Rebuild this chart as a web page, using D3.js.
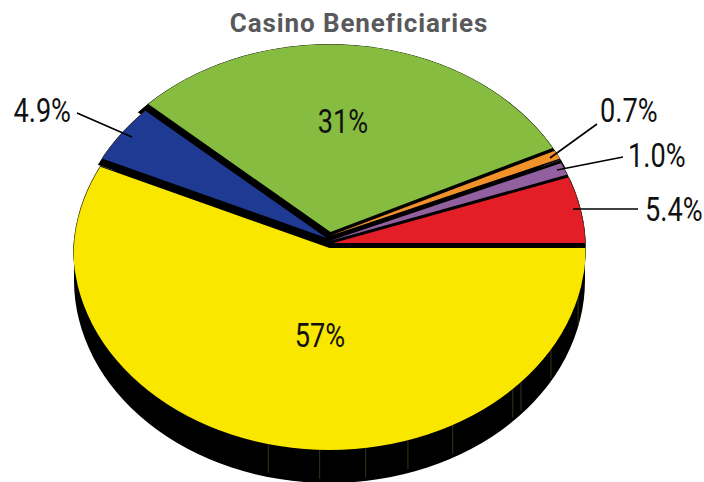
<!DOCTYPE html>
<html><head><meta charset="utf-8">
<script src="https://cdn.jsdelivr.net/npm/d3@7"></script>
<style>html,body{margin:0;padding:0;background:#fff}svg{display:block}</style>
</head><body><svg id="c" width="704" height="482"></svg>
<script>
const titleText = "Casino Beneficiaries";
const categories = ["Red","Purple","Orange","Green","Blue","Yellow"];
const values = [5.4,1.0,0.7,31.35,4.85,56.7];
const labels = ["5.4%","1.0%","0.7%","31%","4.9%","57%"];
const colors = ["#e31e26","#92609f","#f0912a","#86bc40","#1f3a93","#f9e700"];
const seamDegrees = [103.8,92.2,81.9,72.2,61.3,44.4,41.7,30.3,14.3];

const W=704,H=482,cx=329.5,cy=247,rx=256.5,ry=203,depth=33;
const sliceShift = [[4,-4],[0,-6],[0,-11],[1,-15],[-3,-9],[0,1]];
const rimShift = [3,3,0,0,5,10];
const labelPos = [[645,209,"start"],[628,155,"start"],[600,110,"start"],[343,121,"middle"],[71,110,"end"],[320,335,"middle"]];
const leaderOuter = [[638,209],[623,157],[597,124],null,[77,113],null];
const leaderInner = [[573,209],[557,170],[550,158],null,[132,137],null];

const svg=d3.select("#c");
const pie=d3.pie().sort(null).value(d=>d).startAngle(Math.PI/2).endAngle(Math.PI/2-2*Math.PI);
const arcs=pie(values);
const arc=d3.arc().innerRadius(0).outerRadius(1.25);
const defs=svg.append("defs");
defs.append("clipPath").attr("id","rim").append("ellipse")
  .attr("cx",cx).attr("cy",cy).attr("rx",rx).attr("ry",ry);
arcs.forEach((a,i)=>{
  defs.append("clipPath").attr("id","rim"+i).append("ellipse")
    .attr("cx",cx).attr("cy",cy+rimShift[i]).attr("rx",rx).attr("ry",ry);
  defs.append("clipPath").attr("id","wedge"+i).append("path").attr("d",arc(a))
    .attr("transform",`translate(${cx+sliceShift[i][0]},${cy+sliceShift[i][1]}) scale(${rx},${ry})`);
});

// side wall
svg.append("rect").attr("x",cx-rx+1).attr("y",cy).attr("width",2*rx-2).attr("height",depth).attr("fill","#000");
svg.append("ellipse").attr("cx",cx).attr("cy",cy+depth).attr("rx",rx-1).attr("ry",ry).attr("fill","#000");
// seams on the side wall
const x=d3.scaleLinear().domain([-1,1]).range([cx-rx,cx+rx]);
const y=d3.scaleLinear().domain([-1,1]).range([cy-ry,cy+ry]);
svg.selectAll("line.seam").data(seamDegrees).join("line").attr("class","seam")
  .attr("x1",d=>x(Math.cos(d*Math.PI/180))).attr("x2",d=>x(Math.cos(d*Math.PI/180)))
  .attr("y1",d=>y(Math.sin(d*Math.PI/180))).attr("y2",d=>y(Math.sin(d*Math.PI/180))+depth-4)
  .attr("stroke","#4a4a20").attr("stroke-width",0.7);

const g=svg.append("g").attr("clip-path","url(#rim)");
// black under-wedges, unshifted, each limited by its slice's rim
g.selectAll("g.s").data(arcs).join("g").attr("class","s").attr("clip-path",(d,i)=>`url(#rim${i})`)
  .append("path").attr("d",arc)
  .attr("transform",`translate(${cx},${cy}) scale(${rx},${ry})`).attr("fill","#000");
// coloured slices above all under-wedges
const tops=g.selectAll("g.t").data(arcs).join("g").attr("class","t").attr("clip-path",(d,i)=>`url(#rim${i})`);
tops.append("path").attr("d",arc)
  .attr("transform",(d,i)=>`translate(${cx+sliceShift[i][0]},${cy+sliceShift[i][1]}) scale(${rx},${ry})`)
  .attr("fill",(d,i)=>colors[i]);
// rim line along each slice's own outer edge
tops.append("g").attr("clip-path",(d,i)=>`url(#wedge${i})`)
  .append("ellipse").attr("cx",cx).attr("cy",(d,i)=>cy+rimShift[i]).attr("rx",rx).attr("ry",ry)
  .attr("fill","none").attr("stroke","#333").attr("stroke-width",1.2);
// leaders
svg.selectAll("line.leader").data(labels.map((d,i)=>i).filter(i=>leaderOuter[i])).join("line").attr("class","leader")
  .attr("x1",i=>leaderOuter[i][0]).attr("y1",i=>leaderOuter[i][1])
  .attr("x2",i=>leaderInner[i][0]).attr("y2",i=>leaderInner[i][1])
  .attr("stroke","#000").attr("stroke-width",1.6);
// labels
svg.selectAll("text.lab").data(labels).join("text").attr("class","lab")
  .attr("transform",(d,i)=>`translate(${labelPos[i][0]},${labelPos[i][1]+12}) scale(0.81,1)`)
  .attr("text-anchor",(d,i)=>labelPos[i][2])
  .attr("font-family","Roboto,sans-serif")
  .attr("font-size",33.5).attr("fill","#111").text(d=>d);
svg.append("text").attr("x",359).attr("y",32).attr("text-anchor","middle")
  .attr("font-family","Roboto,sans-serif").attr("font-weight",700).attr("letter-spacing",0.9)
  .attr("font-size",26).attr("fill","#58595b").text(titleText);
</script></body></html>
